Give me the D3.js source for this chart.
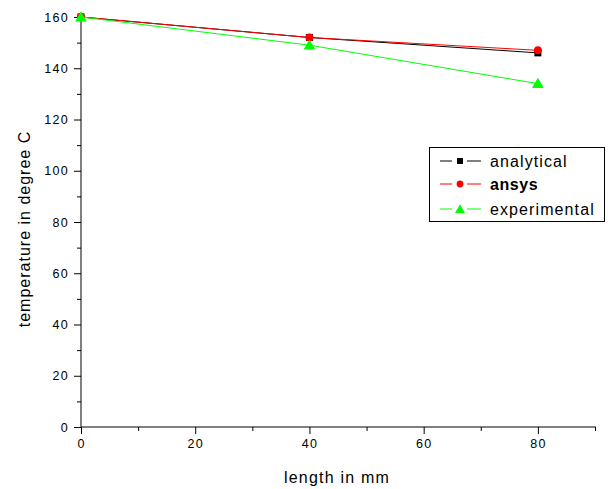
<!DOCTYPE html>
<html><head><meta charset="utf-8">
<script src="https://cdn.jsdelivr.net/npm/d3@7"></script>
<style>body{margin:0;background:#fff}svg{display:block}text{font-family:"Liberation Sans",Arial,sans-serif}</style>
</head><body><svg id="c" width="608" height="489"></svg>
<script>
const xValues = [0, 40, 80];
const analytical = [160, 152, 146];
const ansys = [160, 152, 147];
const experimental = [160, 149, 134];
const xTicks = [0, 20, 40, 60, 80];
const yTicks = [0, 20, 40, 60, 80, 100, 120, 140, 160];
const seriesNames = ["analytical", "ansys", "experimental"];
const colors = ["#000000", "#ff0000", "#00ff00"];

const svg = d3.select("#c");
const x = d3.scaleLinear().domain([0, 90]).range([81, 595]);
const y = d3.scaleLinear().domain([0, 160]).range([427, 17]);

// axes
const xAxis = svg.append("g").attr("transform", "translate(0,427)")
  .call(d3.axisBottom(x).tickValues(d3.range(0, 91, 10)).tickSize(7).tickPadding(5)
    .tickFormat(d => xTicks.includes(d) ? d : ""));
const yAxis = svg.append("g").attr("transform", "translate(81,0)")
  .call(d3.axisLeft(y).tickValues(d3.range(0, 161, 10)).tickSize(7).tickPadding(5)
    .tickFormat(d => yTicks.includes(d) ? d : ""));
[xAxis, yAxis].forEach(g => {
  g.select(".domain").remove();
  g.selectAll("line").attr("stroke", "#000");
  g.selectAll(".tick").filter(d => d % 20 !== 0).select("line")
    .each(function() { const l = d3.select(this); if (l.attr("x2") !== null && +l.attr("x2") !== 0) l.attr("x2", -4); else l.attr("y2", 4); });
  g.selectAll("text").attr("font-size", 12.5).attr("letter-spacing", 1.3).attr("fill", "#000");
});
svg.append("line").attr("x1", 81).attr("x2", 81).attr("y1", 13).attr("y2", 427).attr("stroke", "#000");
svg.append("line").attr("x1", 81).attr("x2", 596).attr("y1", 427).attr("y2", 427).attr("stroke", "#000");

svg.append("text").attr("x", 337).attr("y", 483).attr("text-anchor", "middle")
  .attr("font-size", 16).attr("letter-spacing", 1.2).text("length in mm");
svg.append("text").attr("transform", "translate(30,229) rotate(-90)").attr("text-anchor", "middle")
  .attr("font-size", 16).attr("letter-spacing", 1).text("temperature in degree C");

const data = [analytical, ansys, experimental];
const line = d3.line().x((d, i) => x(xValues[i])).y(d => y(d));
function marker(g, k, cx, cy, s) {
  if (k === 0) g.append("rect").attr("x", cx - 3.5 * s).attr("y", cy - 3.5 * s).attr("width", 7 * s).attr("height", 7 * s).attr("fill", colors[0]);
  else if (k === 1) g.append("circle").attr("cx", cx).attr("cy", cy).attr("r", 4 * s).attr("fill", colors[1]);
  else g.append("path").attr("d", d3.symbol(d3.symbolTriangle, 60 * s * s)()).attr("transform", `translate(${cx},${cy + 1})`).attr("fill", colors[2]);
}
[0, 1, 2].forEach(k => {
  const g = svg.append("g");
  g.append("path").attr("d", line(data[k])).attr("fill", "none").attr("stroke", colors[k]).attr("stroke-width", 1);
  data[k].forEach((v, i) => marker(g, k, x(xValues[i]), y(v), 1));
});

// legend
const lg = svg.append("g");
lg.append("rect").attr("x", 429.5).attr("y", 147.5).attr("width", 175).attr("height", 74)
  .attr("fill", "#fff").attr("stroke", "#000");
const ly = [161, 184, 209];
seriesNames.forEach((n, k) => {
  lg.append("line").attr("x1", 440).attr("x2", 452).attr("y1", ly[k]).attr("y2", ly[k]).attr("stroke", colors[k]);
  lg.append("line").attr("x1", 467).attr("x2", 481).attr("y1", ly[k]).attr("y2", ly[k]).attr("stroke", colors[k]);
  marker(lg, k, 460, ly[k], 0.85);
  lg.append("text").attr("x", 490).attr("y", ly[k] + 6).attr("font-size", 16).attr("letter-spacing", k === 1 ? 0.6 : 1.1)
    .attr("font-weight", k === 1 ? "bold" : "normal").text(n);
});
</script></body></html>
